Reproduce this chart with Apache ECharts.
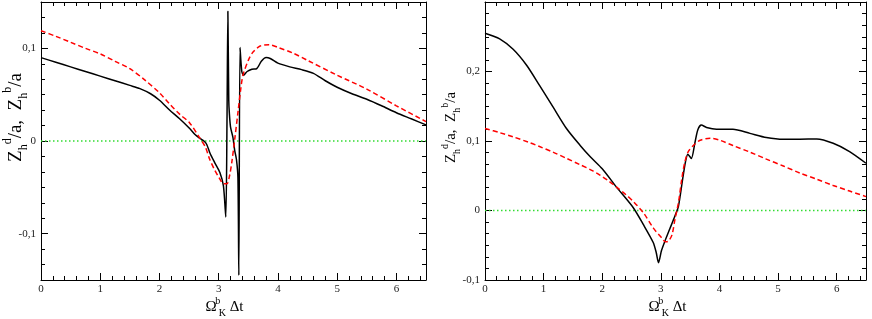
<!DOCTYPE html>
<html>
<head>
<meta charset="utf-8">
<script src="https://cdn.jsdelivr.net/npm/echarts@6/dist/echarts.min.js"></script>
<style>html,body{margin:0;padding:0;background:#fff}#c{width:872px;height:319px}</style>
</head>
<body>
<div id="c"></div>
<script>
// ---------- data ----------
const xMajorTicks = [0, 1, 2, 3, 4, 5, 6];
const leftYMajorTicks = [-0.1, 0, 0.1];
const rightYMajorTicks = [-0.1, 0, 0.1, 0.2];
const zeroLine = [[0, 0], [6.5, 0]];

const leftBlack = [
  [0,0.090],[0.25,0.085],[0.5,0.080],[0.75,0.075],[1.0,0.070],[1.25,0.065],[1.5,0.060],
  [1.67,0.0565],[1.85,0.051],[2.0,0.044],[2.17,0.0335],[2.34,0.024],[2.51,0.0135],[2.6,0.007],
  [2.68,0.003],[2.76,-0.0005],[2.8,-0.004],[2.85,-0.0126],[2.93,-0.023],[3.02,-0.034],
  [3.08,-0.0485],[3.12,-0.082],[3.14,0.02],[3.155,0.140],[3.17,0.044],[3.18,0.030],
  [3.2,0.015],[3.24,0.004],[3.27,-0.010],[3.30,-0.020],[3.325,-0.040],[3.34,-0.145],
  [3.36,0.101],[3.39,0.075],[3.42,0.071],[3.48,0.075],[3.56,0.0775],[3.64,0.078],
  [3.72,0.086],[3.8,0.090],[3.87,0.089],[4.0,0.084],[4.2,0.080],[4.4,0.077],[4.6,0.073],
  [4.8,0.065],[5.0,0.058],[5.25,0.051],[5.5,0.045],[5.75,0.038],[6.0,0.0305],[6.25,0.024],[6.5,0.0174]
];
const leftRed = [
  [0,0.119],[0.25,0.113],[0.5,0.1065],[0.75,0.100],[1.0,0.094],[1.25,0.086],[1.5,0.078],
  [1.75,0.066],[2.0,0.052],[2.17,0.040],[2.34,0.029],[2.51,0.0195],[2.68,0.0032],
  [2.77,-0.0058],[2.85,-0.020],[2.93,-0.031],[3.02,-0.041],[3.08,-0.046],[3.14,-0.046],
  [3.18,-0.0385],[3.22,-0.0235],[3.27,0.0014],[3.33,0.0335],[3.37,0.055],[3.41,0.071],
  [3.5,0.087],[3.58,0.096],[3.70,0.1025],[3.85,0.104],[4.0,0.101],[4.25,0.095],[4.5,0.087],
  [5.0,0.071],[5.5,0.056],[6.0,0.038],[6.5,0.021]
];
const rightBlack = [
  [0,0.255],[0.25,0.247],[0.48,0.232],[0.71,0.209],[0.93,0.180],[1.16,0.149],[1.39,0.118],
  [1.62,0.094],[1.8,0.077],[2.0,0.060],[2.24,0.034],[2.53,0.004],[2.70,-0.020],[2.87,-0.046],
  [2.92,-0.060],[2.96,-0.075],[3.01,-0.058],[3.07,-0.044],[3.15,-0.027],[3.24,-0.008],
  [3.30,0.006],[3.37,0.044],[3.42,0.070],[3.46,0.081],[3.52,0.075],[3.58,0.097],[3.63,0.116],
  [3.69,0.123],[3.78,0.1195],[3.95,0.117],[4.23,0.117],[4.52,0.111],[4.80,0.105],[5.09,0.1024],
  [5.37,0.1026],[5.66,0.1029],[5.94,0.0967],[6.22,0.0848],[6.5,0.068]
];
const rightRed = [
  [0,0.118],[0.25,0.112],[0.48,0.106],[0.75,0.098],[0.93,0.092],[1.16,0.084],[1.39,0.075],
  [1.62,0.066],[1.84,0.057],[1.96,0.051],[2.1,0.043],[2.24,0.034],[2.4,0.023],[2.53,0.013],
  [2.70,-0.003],[2.87,-0.025],[3.01,-0.039],[3.08,-0.045],[3.13,-0.044],[3.19,-0.035],
  [3.24,-0.013],[3.30,0.011],[3.36,0.047],[3.41,0.070],[3.47,0.085],[3.56,0.094],[3.67,0.101],
  [3.84,0.104],[4.01,0.101],[4.23,0.0935],[4.52,0.084],[4.80,0.074],[5.09,0.064],[5.37,0.054],
  [5.66,0.045],[5.94,0.036],[6.22,0.028],[6.5,0.020]
];

// ---------- helpers ----------
const FONT = 'Liberation Serif';
const fmt = v => String(Math.round(v * 1000) / 1000).replace('.', ',');
function stepValues(lo, hi, denom) { // minor ticks: k/denom
  const out = [];
  for (let k = lo; k <= hi; k++) out.push(k / denom);
  return out;
}
const xMinor = stepValues(0, 32, 5);           // every 0.2
const leftYMinor = stepValues(-9, 9, 60);      // every 1/60
const rightYMinor = stepValues(-6, 18, 60);

function rich(base, small, stackSup) {
  const sup = {fontFamily: FONT, fontSize: small, color: '#000', lineHeight: small, verticalAlign: 'top'};
  if (stackSup) sup.width = 2;
  return {
    b: {fontFamily: FONT, fontSize: base, color: '#000', lineHeight: Math.round(base * 1.45)},
    sub: {fontFamily: FONT, fontSize: small, color: '#000', lineHeight: small, verticalAlign: 'bottom'},
    sup: sup
  };
}
const yName = '{b|Z}{sub|h}{sup|d}{b|/a,  Z}{sub|h}{sup|b}{b|/a}';
const xName = '{b|Ω}{sup|b}{sub|K}{b| Δt}';

const noZeroHidden = {show: false, onZero: false};
function xAxes(gi, shift) {
  const base = {type: 'value', gridIndex: gi, min: 0, max: 6.5, splitLine: {show: false}};
  const line = {show: true, onZero: false, lineStyle: {color: '#000', width: 1}};
  return [
    Object.assign({}, base, {position: 'bottom', axisLine: line,
      axisTick: {show: true, inside: true, length: 7, customValues: xMajorTicks, lineStyle: {color: '#000'}},
      axisLabel: {show: true, customValues: xMajorTicks, formatter: fmt, margin: 4,
        fontFamily: FONT, fontSize: 11, color: '#222'},
      name: xName, nameLocation: 'middle', nameGap: 16, nameMoveOverlap: false,
      nameTextStyle: {rich: rich(15, 10, true), padding: [0, shift, 0, 0]}}),
    Object.assign({}, base, {position: 'bottom', axisLine: noZeroHidden,
      axisTick: {show: true, inside: true, length: 4, customValues: xMinor, lineStyle: {color: '#000'}},
      axisLabel: {show: false}}),
    Object.assign({}, base, {position: 'top', axisLine: line,
      axisTick: {show: true, inside: true, length: 7, customValues: xMajorTicks, lineStyle: {color: '#000'}},
      axisLabel: {show: false}}),
    Object.assign({}, base, {position: 'top', axisLine: noZeroHidden,
      axisTick: {show: true, inside: true, length: 4, customValues: xMinor, lineStyle: {color: '#000'}},
      axisLabel: {show: false}})
  ];
}
function yAxes(gi, min, max, major, minor, nameFont, nameGap, shift) {
  const base = {type: 'value', gridIndex: gi, min: min, max: max, splitLine: {show: false}};
  const line = {show: true, onZero: false, lineStyle: {color: '#000', width: 1}};
  return [
    Object.assign({}, base, {position: 'left', axisLine: line,
      axisTick: {show: true, inside: true, length: 7, customValues: major, lineStyle: {color: '#000'}},
      axisLabel: {show: true, customValues: major, formatter: fmt, margin: 5,
        fontFamily: FONT, fontSize: 11, color: '#222'},
      name: yName, nameLocation: 'middle', nameRotate: 90, nameGap: nameGap, nameMoveOverlap: false,
      nameTextStyle: {rich: rich(nameFont, Math.round(nameFont * 0.65), false), padding: [0, 0, 0, shift]}}),
    Object.assign({}, base, {position: 'left', axisLine: noZeroHidden,
      axisTick: {show: true, inside: true, length: 4, customValues: minor, lineStyle: {color: '#000'}},
      axisLabel: {show: false}}),
    Object.assign({}, base, {position: 'right', axisLine: line,
      axisTick: {show: true, inside: true, length: 7, customValues: major, lineStyle: {color: '#000'}},
      axisLabel: {show: false}}),
    Object.assign({}, base, {position: 'right', axisLine: noZeroHidden,
      axisTick: {show: true, inside: true, length: 4, customValues: minor, lineStyle: {color: '#000'}},
      axisLabel: {show: false}})
  ];
}
function seriesFor(gi, black, red) {
  const xi = gi * 4, yi = gi * 4;
  const common = {type: 'line', xAxisIndex: xi, yAxisIndex: yi, showSymbol: false, symbol: 'none',
    smooth: false, animation: false, silent: true};
  return [
    Object.assign({}, common, {name: 'zero', data: zeroLine,
      lineStyle: {color: '#33dd33', width: 1.3, type: [1.5, 2.5]}}),
    Object.assign({}, common, {name: 'black', data: black, smooth: 0.25,
      lineStyle: {color: '#000', width: 1.5}}),
    Object.assign({}, common, {name: 'red', data: red, smooth: 0.3,
      lineStyle: {color: '#ff0000', width: 1.5, type: [5, 3]}})
  ];
}

const chart = echarts.init(document.getElementById('c'), null, {renderer: 'canvas'});
chart.setOption({
  animation: false,
  backgroundColor: '#fff',
  grid: [
    {left: 41, top: 2, width: 385, height: 278, containLabel: false, outerBoundsMode: 'none'},
    {left: 485, top: 2, width: 381, height: 278, containLabel: false, outerBoundsMode: 'none'}
  ],
  xAxis: [].concat(xAxes(0, 18), xAxes(1, 16)),
  yAxis: [].concat(yAxes(0, -0.15, 0.15, leftYMajorTicks, leftYMinor, 19, 11, 47),
                   yAxes(1, -0.1, 0.3, rightYMajorTicks, rightYMinor, 15, 23, 27)),
  series: [].concat(seriesFor(0, leftBlack, leftRed), seriesFor(1, rightBlack, rightRed))
});
</script>
</body>
</html>
